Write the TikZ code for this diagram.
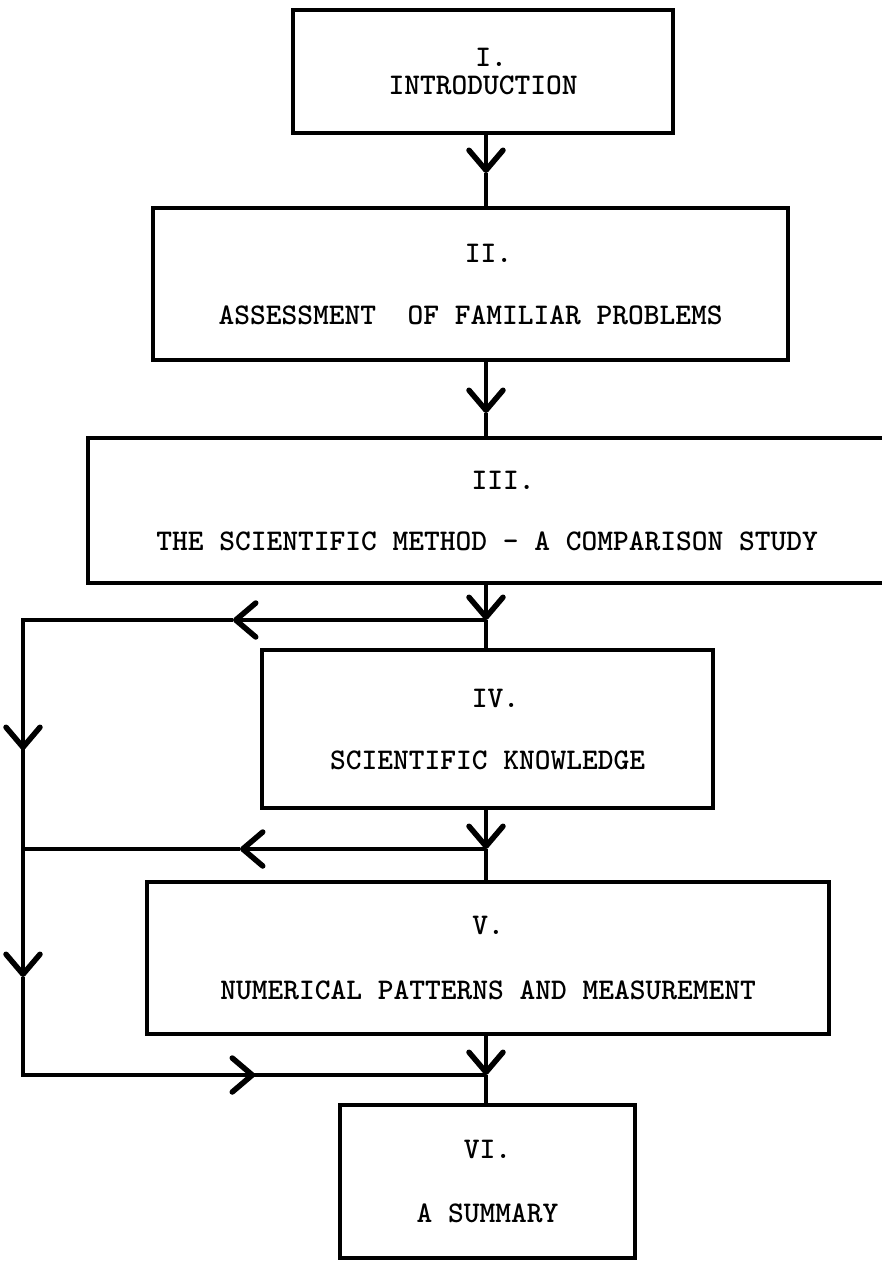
\documentclass[tikz,border=0pt]{standalone}
\usetikzlibrary{arrows.meta}
\begin{document}
\begin{tikzpicture}[x=1pt,y=-1pt,
  box/.style={draw, line width=4.5pt, inner sep=0pt, align=center,
    font=\ttfamily\bfseries\fontsize{30}{30}\selectfont},
  conn/.style={line width=4pt},
  arrowed/.style={conn, -{Straight Barb[length=20pt,width=34pt,line width=5.5pt,round]}}]
\useasboundingbox (0,0) rectangle (881,1261);
\fill[white] (0,0) rectangle (881,1261);
% boxes
\node[box, minimum width=380pt, minimum height=123pt] (I) at (483,71.5) {\hspace*{16pt}I.\\[-2pt]INTRODUCTION};
\node[box, minimum width=635pt, minimum height=152pt] (II) at (470.5,284) {\hspace*{36pt}II.\\[32pt]ASSESSMENT\ \ OF FAMILIAR PROBLEMS};
\node[box, minimum width=812pt, minimum height=145pt] (III) at (494,510.5) {\hspace*{18pt}III.\\[31pt]THE SCIENTIFIC METHOD - A COMPARISON STUDY\hspace*{14pt}};
\node[box, minimum width=451pt, minimum height=158pt] (IV) at (487.5,729) {\hspace*{16pt}IV.\\[32pt]SCIENTIFIC KNOWLEDGE};
\node[box, minimum width=682pt, minimum height=152pt] (V) at (488,958) {V.\\[35pt]NUMERICAL PATTERNS AND MEASUREMENT};
\node[box, minimum width=295pt, minimum height=153pt] (VI) at (487.5,1181.5) {VI.\\[34pt]A SUMMARY};
% coordinates
\coordinate (mx) at (486,0);
\coordinate (a1) at (486,173);
\coordinate (a2) at (486,413);
\coordinate (j1) at (486,620);
\coordinate (j2) at (486,849);
\coordinate (j3) at (486,1075);
\coordinate (c1) at (23,620);
\coordinate (c2) at (23,849);
\coordinate (c3) at (23,1075);
\coordinate (h1) at (233,620);
\coordinate (h2) at (240,849);
\coordinate (h3) at (255,1075);
\coordinate (v1) at (23,750);
\coordinate (v2) at (23,977);
% main line
\draw[arrowed] (I.south -| mx) -- (a1);
\draw[conn] (a1) -- (II.north -| mx);
\draw[arrowed] (II.south -| mx) -- (a2);
\draw[conn] (a2) -- (III.north -| mx);
\draw[arrowed] (III.south -| mx) -- (j1);
\draw[conn] (j1) -- (IV.north -| mx);
\draw[arrowed] (IV.south -| mx) -- (j2);
\draw[conn] (j2) -- (V.north -| mx);
\draw[arrowed] (V.south -| mx) -- (j3);
\draw[conn] (j3) -- (VI.north -| mx);
% feedback lines
\draw[arrowed] (j1) -- (h1);
\draw[conn, line join=miter] (h1) -- (c1) -- (v1);
\draw[arrowed] (c1) -- (v1);
\draw[conn] (v1) -- (c2);
\draw[arrowed] (j2) -- (h2);
\draw[conn] (h2) -- (c2);
\draw[arrowed] (c2) -- (v2);
\draw[conn, line join=miter] (v2) -- (c3) -- (h3);
\draw[arrowed] (c3) -- (h3);
\draw[conn] (h3) -- (j3);
\end{tikzpicture}
\end{document}
